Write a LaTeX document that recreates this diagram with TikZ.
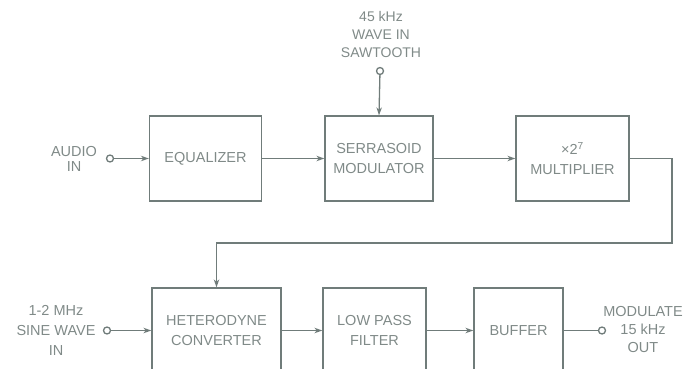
\documentclass[tikz,border=0pt]{standalone}
\usepackage{fontspec}
\setmainfont{Liberation Sans}
\usetikzlibrary{arrows.meta}
\definecolor{linec}{RGB}{112,124,122}
\definecolor{textc}{RGB}{128,138,136}
\tikzset{
  blk/.style={draw=linec, line width=1.3pt, rectangle, minimum height=85pt, inner sep=0pt,
              font=\fontsize{14.5}{20}\selectfont, text=textc, align=center},
  lbl/.style={font=\fontsize{14.5}{19}\selectfont, text=textc, align=center, inner sep=0pt},
  term/.style={draw=linec, line width=1.3pt, circle, minimum size=7pt, inner sep=0pt, fill=white},
  wire/.style={draw=linec, line width=1.3pt},
  arr/.style={wire, -{Stealth[length=8pt,width=5.5pt]}}
}
\begin{document}
\begin{tikzpicture}[x=1pt,y=-1pt]
\useasboundingbox (0,0) rectangle (691,369);
\clip (0,0) rectangle (691,369);
% top row
\node[blk, minimum width=112pt] (eq)  at (205.5,158.5) {EQUALIZER};
\node[blk, minimum width=108pt] (ser) at (379,158.5) {SERRASOID\\MODULATOR};
\node[blk, minimum width=113pt] (mul) at (572.5,158.5) {×2\textsuperscript{7}\\MULTIPLIER};
% bottom row
\node[blk, minimum width=129pt] (het) at (216.5,330.5) {HETERODYNE\\CONVERTER};
\node[blk, minimum width=103pt] (lpf) at (374.5,330.5) {LOW PASS\\FILTER};
\node[blk, minimum width=89pt]  (buf) at (518.5,330.5) {BUFFER};
% terminals
\node[term] (ain)  at (110,158.5) {};
\node[term] (saw)  at (380,71) {};
\node[term] (sin)  at (107,330.5) {};
\node[term] (out)  at (602,330.5) {};
% labels
\node[lbl, font=\fontsize{14.5}{15}\selectfont] (laudio) at (74,159) {AUDIO\\IN};
\node[lbl, font=\fontsize{14}{18}\selectfont] (lsaw) at (381,34) {45 kHz\\WAVE IN\\SAWTOOTH};
\node[lbl, font=\fontsize{14.5}{20}\selectfont] (lsin) at (56,330) {1-2 MHz\\SINE WAVE\\IN};
\node[lbl, font=\fontsize{14.5}{18}\selectfont] (lout) at (643,330) {MODULATE\\15 kHz\\OUT};
% connectors
\draw[arr] (ain) -- (eq.west);
\draw[arr] (eq.east) -- (ser.west);
\draw[arr] (ser.east) -- (mul.west);
\draw[arr] (saw) -- (ser.north);
\coordinate (r1) at (672,158.5);
\coordinate (r2) at (672,243);
\coordinate (r3) at (216.5,243);
\draw[arr] (mul.east) -- (r1) -- (r2) -- (r3) -- (het.north);
\draw[arr] (sin) -- (het.west);
\draw[arr] (het.east) -- (lpf.west);
\draw[arr] (lpf.east) -- (buf.west);
\draw[wire] (buf.east) -- (out);
\end{tikzpicture}
\end{document}
